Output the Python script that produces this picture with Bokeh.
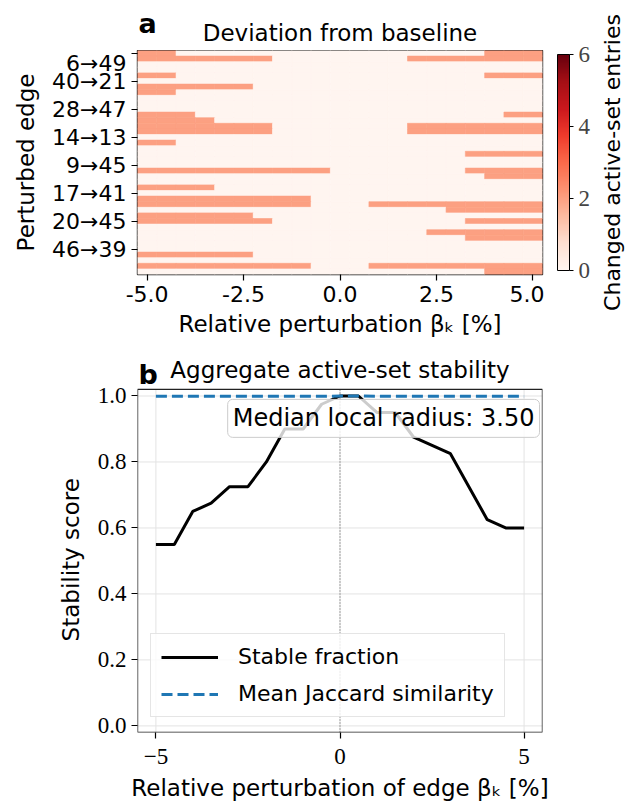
import math
from bokeh.plotting import figure
from bokeh.layouts import column, row
from bokeh.models import (Range1d, FixedTicker, LinearColorMapper, ColorBar, Label,
                          ColumnDataSource)
from bokeh.palettes import Reds256
from bokeh.transform import transform
from bokeh.embed import file_html
from bokeh.resources import INLINE

# ---------------- data ----------------
betas = [-5.0, -4.5, -4.0, -3.5, -3.0, -2.5, -2.0, -1.5, -1.0, -0.5, 0.0,
         0.5, 1.0, 1.5, 2.0, 2.5, 3.0, 3.5, 4.0, 4.5, 5.0]
beta_ticks_a = [-5.0, -2.5, 0.0, 2.5, 5.0]
beta_tick_labels_a = ["-5.0", "-2.5", "0.0", "2.5", "5.0"]
edge_tick_rows = [0, 5, 10, 15, 20, 25, 30, 35]
edge_tick_labels = ["6→49", "40→21", "28→47", "14→13", "9→45", "17→41", "20→45", "46→39"]
# number of changed cells counted from the left (beta=-5) and from the right (beta=+5), per edge row
left_changed_cells = [2, 7, 0, 0, 2, 0, 6, 2, 0, 0, 0, 3, 4, 7, 7, 0, 2, 0, 0, 0,
                      0, 10, 0, 0, 4, 0, 9, 9, 0, 6, 7, 0, 0, 0, 0, 0, 6, 0, 9, 0]
right_changed_cells = [3, 7, 0, 0, 3, 0, 0, 0, 0, 0, 0, 2, 0, 7, 7, 0, 0, 0, 4, 0,
                       0, 4, 3, 0, 0, 0, 0, 9, 5, 0, 4, 0, 6, 4, 0, 0, 0, 0, 9, 3]
changed_entries = 2
cbar_ticks = [0, 2, 4, 6]

stable_fraction = [0.55, 0.55, 0.65, 0.675, 0.725, 0.725, 0.8, 0.9, 0.9, 0.975, 1.0,
                   1.0, 0.95, 0.95, 0.875, 0.85, 0.825, 0.725, 0.625, 0.6, 0.6]
mean_jaccard = [0.999, 0.999, 0.999, 0.999, 0.999, 0.999, 0.999, 0.999, 0.999, 0.999, 1.0,
                1.0, 0.999, 0.999, 0.999, 0.999, 0.999, 0.999, 0.999, 0.999, 0.999]
beta_ticks_b = [-5, 0, 5]
beta_tick_labels_b = ["−5", "0", "5"]
score_ticks = [0.0, 0.2, 0.4, 0.6, 0.8, 1.0]
median_radius = 3.50

SANS = "DejaVu Sans"
SERIF = "Liberation Serif"
BASELINE_FIX = 10.0   # px


def bare(fig):
    fig.outline_line_color = None
    fig.grid.visible = False
    return fig


def label_strip(fig, text, standoff):
    """A narrow figure whose only visible content is its left axis label."""
    ax = fig.yaxis[0]
    ax.ticker = FixedTicker(ticks=[])
    ax.axis_label = text
    ax.axis_line_color = None
    ax.major_tick_line_color = None
    ax.minor_tick_line_color = None
    ax.major_tick_out = 0
    ax.major_tick_in = 0
    ax.major_label_standoff = 0
    ax.axis_label_standoff = standoff
    ax.axis_label_text_font = SANS
    ax.axis_label_text_font_style = "normal"
    ax.axis_label_text_color = "black"
    return ax


# ---------------- panel a ----------------
n_rows = len(left_changed_cells)
n_cols = len(betas)
step = betas[1] - betas[0]
xa0, xa1 = betas[0] - step / 2, betas[-1] + step / 2

xs, ys, vals = [], [], []
for r in range(n_rows):
    for c in range(n_cols):
        changed = c < left_changed_cells[r] or c >= n_cols - right_changed_cells[r]
        xs.append(betas[c])
        ys.append(r)
        vals.append(changed_entries if changed else 0)
src = ColumnDataSource(dict(x=xs, y=ys, v=vals))

palette = list(reversed(Reds256))
mapper = LinearColorMapper(palette=palette, low=0, high=6)

# header strip with panel letter and title
head_a = bare(figure(width=544, height=50, x_range=Range1d(xa0, xa1), y_range=Range1d(50, 0),
                     output_backend="svg", toolbar_location=None, x_axis_location=None,
                     y_axis_location=None, min_border_left=137, min_border_right=2,
                     min_border_top=0, min_border_bottom=0))
head_a.add_layout(Label(x=0.0, y=42 - BASELINE_FIX, text="Deviation from baseline",
                        text_align="center", text_baseline="alphabetic", text_font=SANS,
                        text_font_size="23px", text_color="black"))
head_a.add_layout(Label(x=xa0 + 1.0 * (xa1 - xa0) / 405.0, y=33 - BASELINE_FIX, text="a",
                        text_align="left", text_baseline="alphabetic", text_font=SANS,
                        text_font_size="27px", text_font_style="bold", text_color="black"))

p1 = figure(width=544, height=300, x_range=Range1d(xa0, xa1), y_range=Range1d(n_rows - 0.5, -0.5),
            output_backend="svg", toolbar_location=None,
            min_border_left=137, min_border_right=2, min_border_top=0, min_border_bottom=76)
p1.xgrid.visible = False
p1.ygrid.visible = False
p1.outline_line_color = "#222222"
p1.outline_line_width = 1.4

p1.rect(x="x", y="y", width=step, height=1, source=src,
        fill_color=transform("v", mapper), line_color=transform("v", mapper), line_width=0.6)

p1.xaxis.ticker = FixedTicker(ticks=beta_ticks_a)
p1.xaxis.major_label_overrides = dict(zip(beta_ticks_a, beta_tick_labels_a))
p1.yaxis.ticker = FixedTicker(ticks=edge_tick_rows)
p1.yaxis.major_label_overrides = dict(zip(edge_tick_rows, edge_tick_labels))
p1.xaxis.axis_label = "Relative perturbation βₖ [%]"
p1.yaxis.axis_label = "Perturbed edge"
for ax in (p1.xaxis[0], p1.yaxis[0]):
    ax.axis_line_color = None
    ax.minor_tick_line_color = None
    ax.major_tick_in = 0
    ax.major_tick_out = 6
    ax.major_tick_line_color = "black"
    ax.major_tick_line_width = 1.2
    ax.major_label_text_font = SANS
    ax.major_label_text_font_size = "22px"
    ax.major_label_text_color = "black"
    ax.axis_label_text_font = SANS
    ax.axis_label_text_font_size = "23px"
    ax.axis_label_text_font_style = "normal"
    ax.axis_label_text_color = "black"
p1.xaxis.major_label_standoff = 5
p1.xaxis.axis_label_standoff = 6
p1.yaxis.major_label_standoff = 5
p1.yaxis.axis_label_standoff = 10

# colour bar strip
cbar_fig = bare(figure(width=54, height=350, x_range=Range1d(0, 1), y_range=Range1d(0, 1),
                       output_backend="svg", toolbar_location=None, x_axis_location=None,
                       y_axis_location=None, min_border_left=0, min_border_right=0,
                       min_border_top=50, min_border_bottom=76))
cb = ColorBar(color_mapper=mapper, ticker=FixedTicker(ticks=cbar_ticks), width=12, height=216,
              padding=0, margin=0, location=(13, 4),
              major_label_text_font=SERIF, major_label_text_font_size="23px",
              major_tick_in=0, major_tick_out=4, major_tick_line_color="black",
              bar_line_color="black", bar_line_width=1, label_standoff=5,
              background_fill_color=None, border_line_color=None)
cbar_fig.add_layout(cb, "center")

# strip carrying the colour-bar label, read bottom-to-top
clab_fig = bare(figure(width=29, height=350, x_range=Range1d(0, 1), y_range=Range1d(0, 1),
                       output_backend="svg", toolbar_location=None, x_axis_location=None,
                       min_border_left=27, min_border_right=0, min_border_top=50, min_border_bottom=76))
label_strip(clab_fig, "Changed active-set entries", 3).axis_label_text_font_size = "22px"

# ---------------- panel b ----------------
xb0, xb1 = -5.5, 5.5
yb0, yb1 = -0.02, 1.02
PXU_B = 405.0 / (xb1 - xb0)
PXY_B = 344.0 / (yb1 - yb0)
yb_top = yb1 + 39.0 / PXY_B      # frame reaches up over the title area

# strip carrying the y-axis label of panel b (its frame matches the frame of p2);
# trailing no-break spaces move the visible words down to the centre of the plotting box
ylab_fig = bare(figure(width=85, height=453, x_range=Range1d(0, 1), y_range=Range1d(0, 1),
                       output_backend="svg", toolbar_location=None, x_axis_location=None,
                       min_border_left=83, min_border_right=0, min_border_top=0, min_border_bottom=70))
label_strip(ylab_fig, "Stability score" + "\u00a0" * 5, 0).axis_label_text_font_size = "23px"

p2 = figure(width=542, height=453, x_range=Range1d(xb0, xb1), y_range=Range1d(yb0, yb_top),
            output_backend="svg", toolbar_location=None,
            min_border_left=52, min_border_right=85, min_border_top=0, min_border_bottom=70)
p2.outline_line_color = None
p2.xgrid.visible = False
p2.ygrid.visible = False

# grid lines, zero line and box restricted to the plotting area
p2.segment(x0=[xb0] * len(score_ticks), x1=[xb1] * len(score_ticks), y0=score_ticks, y1=score_ticks,
           line_color="#e3e3e3", line_width=1)
p2.segment(x0=beta_ticks_b, x1=beta_ticks_b, y0=[yb0] * len(beta_ticks_b), y1=[yb1] * len(beta_ticks_b),
           line_color="#e3e3e3", line_width=1)
p2.segment(x0=[0], x1=[0], y0=[yb0], y1=[yb1], line_color="#707070", line_dash="1 2", line_width=1.2)

p2.line(betas, stable_fraction, line_color="black", line_width=3, legend_label="Stable fraction")
p2.line(betas, mean_jaccard, line_color="#1f77b4", line_width=3, line_dash="11 5",
        legend_label="Mean Jaccard similarity")
p2.quad(left=[xb0], right=[xb1], top=[yb1], bottom=[yb0], fill_color=None,
        line_color="#222222", line_width=1.4)

p2.xaxis.ticker = FixedTicker(ticks=beta_ticks_b)
p2.xaxis.major_label_overrides = dict(zip(beta_ticks_b, beta_tick_labels_b))
p2.yaxis.ticker = FixedTicker(ticks=score_ticks)
p2.yaxis.major_label_overrides = {t: f"{t:.1f}" for t in score_ticks}
p2.xaxis.axis_label = "Relative perturbation of edge βₖ [%]"
for ax in (p2.xaxis[0], p2.yaxis[0]):
    ax.axis_line_color = None
    ax.minor_tick_line_color = None
    ax.major_tick_in = 0
    ax.major_tick_out = 6
    ax.major_tick_line_color = "black"
    ax.major_tick_line_width = 1.2
    ax.major_label_text_font = SERIF
    ax.major_label_text_font_size = "23px"
    ax.major_label_text_color = "black"
    ax.axis_label_text_font = SANS
    ax.axis_label_text_font_size = "23px"
    ax.axis_label_text_font_style = "normal"
    ax.axis_label_text_color = "black"
p2.xaxis.major_label_standoff = 10
p2.xaxis.axis_label_standoff = 8
p2.yaxis.major_label_standoff = 5

leg = p2.legend[0]
leg.location = (13, 15)
leg.label_text_font = SANS
leg.label_text_font_size = "22px"
leg.label_text_color = "black"
leg.glyph_width = 57
leg.glyph_height = 22
leg.label_standoff = 20
leg.padding = 10
leg.spacing = 12
leg.margin = 0
leg.border_line_color = "#cccccc"
leg.border_line_width = 1
leg.background_fill_alpha = 0.8

p2.add_layout(Label(x=xb1 - 3.0 / PXU_B, y=yb1 - 10.0 / PXY_B, text=f"Median local radius: {median_radius:.2f}",
                    text_align="right", text_baseline="top", text_font=SANS, text_font_size="24px",
                    text_color="black", padding=5, border_radius=5,
                    background_fill_color="white", background_fill_alpha=0.8,
                    border_line_color="#cccccc", border_line_width=1))
p2.add_layout(Label(x=0.0, y=yb1 + (9.0 + BASELINE_FIX) / PXY_B, text="Aggregate active-set stability",
                    text_align="center", text_baseline="alphabetic", text_font=SANS,
                    text_font_size="23px", text_color="black"))
p2.add_layout(Label(x=xb0 + 1.0 / PXU_B, y=yb1 + (5.0 + BASELINE_FIX) / PXY_B, text="b",
                    text_align="left", text_baseline="alphabetic", text_font=SANS,
                    text_font_size="27px", text_font_style="bold", text_color="black"))

top = row(column(head_a, p1, spacing=0), cbar_fig, clab_fig, spacing=0)
bottom = row(ylab_fig, p2, spacing=0)
layout = column(top, bottom, spacing=0)
open("out.html", "w").write(file_html(layout, INLINE))
